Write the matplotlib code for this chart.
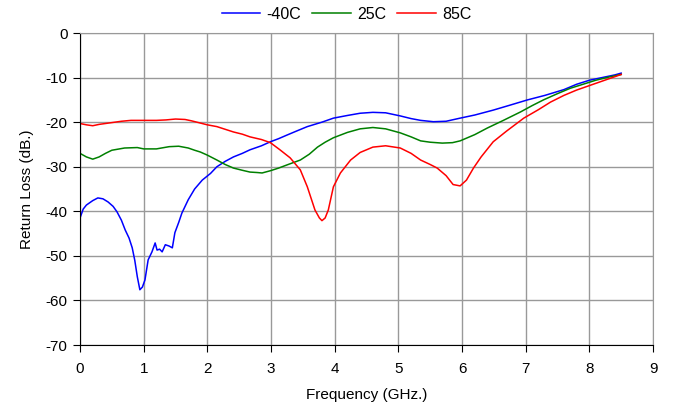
import matplotlib
matplotlib.use("Agg")
import matplotlib.pyplot as plt

plt.rcParams['font.family'] = ['Liberation Sans', 'DejaVu Sans']
plt.rcParams['axes.unicode_minus'] = False

# -40C
x_m40 = [0.0, 0.05, 0.1, 0.2, 0.28, 0.36, 0.44, 0.52, 0.58, 0.65, 0.71, 0.77, 0.82, 0.86, 0.9, 0.94,
         0.98, 1.02, 1.07, 1.13, 1.18, 1.21, 1.25, 1.29, 1.34, 1.4, 1.45, 1.49, 1.55, 1.6, 1.7, 1.8,
         1.92, 2.05, 2.15, 2.28, 2.41, 2.55, 2.67, 2.85, 2.99, 3.12, 3.25, 3.4, 3.57, 3.8, 3.98,
         4.2, 4.4, 4.6, 4.8, 5.03, 5.2, 5.35, 5.55, 5.75, 5.97, 6.2, 6.49, 6.75, 7.03, 7.3, 7.6,
         7.8, 8.0, 8.2, 8.4, 8.5]
y_m40 = [-41.5, -39.5, -38.6, -37.6, -37.0, -37.2, -37.9, -38.9, -40.1, -42.0, -44.2, -46.0, -48.2, -51.0,
         -54.7, -57.6, -57.0, -55.4, -50.9, -49.1, -47.1, -48.7, -48.5, -49.1, -47.5, -47.8, -48.2,
         -44.8, -42.5, -40.4, -37.4, -35.0, -33.0, -31.5, -30.0, -28.8, -27.8, -27.0, -26.2, -25.3,
         -24.4, -23.7, -22.9, -22.0, -21.0, -20.0, -19.1, -18.5, -18.0, -17.8, -17.9, -18.6, -19.2,
         -19.6, -19.9, -19.8, -19.1, -18.4, -17.3, -16.2, -15.0, -14.0, -12.7, -11.5, -10.6, -10.0,
         -9.4, -9.0]

# 25C
x_25 = [0.0, 0.1, 0.2, 0.3, 0.4, 0.5, 0.7, 0.9, 1.0, 1.2, 1.4, 1.55, 1.7, 1.8, 1.89, 2.0, 2.15,
        2.28, 2.41, 2.55, 2.67, 2.78, 2.86, 2.99, 3.12, 3.25, 3.46, 3.6, 3.73, 3.85, 3.98, 4.2,
        4.4, 4.6, 4.8, 5.03, 5.2, 5.35, 5.5, 5.69, 5.85, 5.97, 6.2, 6.4, 6.65, 6.92, 7.1, 7.28,
        7.5, 7.7, 7.9, 8.1, 8.3, 8.5]
y_25 = [-27.0, -27.8, -28.3, -27.8, -27.0, -26.3, -25.8, -25.7, -26.0, -26.0, -25.5, -25.4, -25.8,
        -26.3, -26.7, -27.4, -28.5, -29.5, -30.3, -30.8, -31.2, -31.3, -31.4, -30.9, -30.3, -29.6,
        -28.5, -27.2, -25.6, -24.5, -23.5, -22.3, -21.5, -21.2, -21.5, -22.4, -23.3, -24.2, -24.5,
        -24.7, -24.6, -24.2, -22.8, -21.3, -19.6, -17.7, -16.3, -15.0, -13.6, -12.4, -11.5, -10.6,
        -9.9, -9.3]

# 85C
x_85 = [0.0, 0.1, 0.2, 0.3, 0.5, 0.65, 0.8, 1.0, 1.2, 1.35, 1.5, 1.65, 1.75, 1.89, 2.0, 2.15, 2.28,
        2.41, 2.55, 2.67, 2.85, 2.99, 3.14, 3.3, 3.46, 3.57, 3.69, 3.76, 3.8, 3.85, 3.9, 3.98, 4.09,
        4.25, 4.4, 4.6, 4.8, 5.03, 5.2, 5.35, 5.5, 5.61, 5.75, 5.86, 5.97, 6.07, 6.18, 6.3, 6.49,
        6.7, 6.97, 7.2, 7.39, 7.6, 7.8, 8.0, 8.2, 8.4, 8.5]
y_85 = [-20.3, -20.6, -20.8, -20.5, -20.1, -19.8, -19.6, -19.6, -19.6, -19.5, -19.3, -19.4, -19.7,
        -20.2, -20.6, -21.0, -21.6, -22.2, -22.7, -23.3, -23.9, -24.6, -26.2, -28.0, -30.7, -34.5,
        -39.7, -41.5, -42.1, -41.5, -39.7, -34.5, -31.4, -28.5, -26.8, -25.6, -25.3, -25.8, -27.0,
        -28.5, -29.5, -30.3, -32.0, -34.0, -34.3, -33.0, -30.3, -27.8, -24.4, -22.0, -19.1, -17.2,
        -15.5, -14.0, -12.8, -11.8, -10.8, -9.8, -9.3]

fig = plt.figure(figsize=(6.73, 4.19), dpi=100)
ax = fig.add_axes([0.1189, 0.1766, 0.8514, 0.7446])

ax.plot(x_m40, y_m40, color='#0000ff', lw=1.1, label='-40C')
ax.plot(x_25, y_25, color='#008000', lw=1.1, label='25C')
ax.plot(x_85, y_85, color='#ff0000', lw=1.1, label='85C')

ax.set_xlim(0, 9)
ax.set_ylim(-70, 0)
ax.set_xticks(range(0, 10))
ax.set_yticks(range(-70, 1, 10))
ax.grid(True, color='#999999', lw=1)
ax.set_axisbelow(True)
for s in ['top', 'right']:
    ax.spines[s].set_color('#999999')
for s in ['left', 'bottom']:
    ax.spines[s].set_color('black')
ax.tick_params(axis='both', direction='out', length=5, labelsize=11, pad=4)
ax.tick_params(axis='x', pad=7)

ax.set_xlabel('Frequency (GHz.)', fontsize=11, labelpad=9)
ax.set_ylabel('Return Loss (dB.)', fontsize=11, labelpad=8)

fig.legend(loc='upper center', bbox_to_anchor=(0.515, 1.018), ncol=3, frameon=False,
           fontsize=11.5, handlelength=2.4, columnspacing=0.7, handletextpad=0.4)

fig.savefig('out.png', dpi=100)
